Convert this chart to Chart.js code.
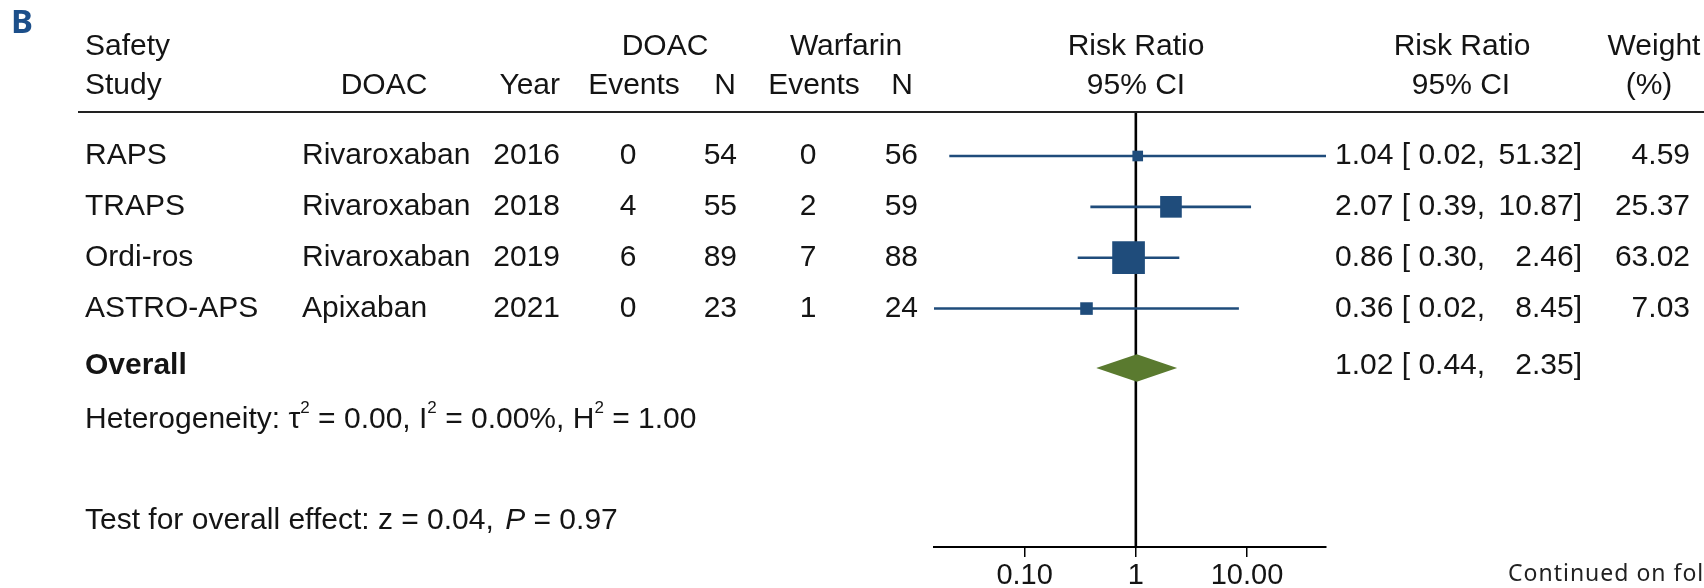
<!DOCTYPE html>
<html>
<head>
<meta charset="utf-8">
<script src="https://cdn.jsdelivr.net/npm/chart.js@4.4.1/dist/chart.umd.min.js"></script>
<style>
  html, body { margin: 0; padding: 0; background: #fff; }
  #wrap { width: 1704px; height: 588px; position: relative; }
</style>
</head>
<body>
<div id="wrap"><canvas id="forestChart" width="1704" height="588"></canvas></div>
<script>
// forest plot B - safety, DOAC vs warfarin

// data
const studies    = ['RAPS', 'TRAPS', 'Ordi-ros', 'ASTRO-APS'];
const drugs      = ['Rivaroxaban', 'Rivaroxaban', 'Rivaroxaban', 'Apixaban'];
const years      = [2016, 2018, 2019, 2021];
const doacEvents = [0, 4, 6, 0];
const doacN      = [54, 55, 89, 23];
const warfEvents = [0, 2, 7, 1];
const warfN      = [56, 59, 88, 24];
const riskRatio  = [1.04, 2.07, 0.86, 0.36];
const ciLow      = [0.021, 0.39, 0.30, 0.0153];
const ciHigh     = [51.32, 10.87, 2.46, 8.45];
const weights    = [4.59, 25.37, 63.02, 7.03];
const overallRR   = 1.02;
const overallLow  = 0.44;
const overallHigh = 2.35;
const tickValues = [0.1, 1, 10];
const tickLabels = ['0.10', '1', '10.00'];

// layout (row units on the hidden y scale)
const Y_MIN = -1.892, Y_MAX = 8.688;
const V_HEAD1 = -1.157, V_HEAD2 = -0.374, V_RULE = 0.139;
const V_OVERALL = 5.13, V_DIAMOND = 5.168, V_HET = 6.193, V_TEST = 8.166;
const DIAMOND_H = 0.27;

const FONT_FAMILY = '"Liberation Sans", Arial, Helvetica, sans-serif';
const FONT_SIZE = 30;
const FONT = FONT_SIZE + 'px ' + FONT_FAMILY;
const TEXT = '#141414';
const BLUE = '#1f4c7b';
const GREEN = '#5a7a2f';

const rowV = studies.map((s, i) => i + 1);

// datasets
const squares = {
    label: 'RR',
    data: riskRatio.map((r, i) => ({ x: r, y: rowV[i] })),
    showLine: false,
    pointStyle: 'rect',
    pointRadius: weights.map(w => (3.8 * Math.sqrt(w) + 2.5) / Math.SQRT2),
    pointBackgroundColor: BLUE,
    pointBorderWidth: 0
};

const ciLines = studies.map((s, i) => ({
    label: s + ' CI',
    data: [{ x: ciLow[i], y: rowV[i] }, { x: ciHigh[i], y: rowV[i] }],
    borderColor: BLUE,
    borderWidth: 2.6,
    pointRadius: 0,
    showLine: true
}));

const diamondTop = {
    label: 'overall top',
    data: [
        { x: overallLow, y: V_DIAMOND },
        { x: overallRR, y: V_DIAMOND - DIAMOND_H },
        { x: overallHigh, y: V_DIAMOND }
    ],
    borderWidth: 0,
    borderColor: GREEN,
    backgroundColor: GREEN,
    pointRadius: 0,
    showLine: true,
    tension: 0,
    fill: '+1'
};
const diamondBottom = {
    label: 'overall bottom',
    data: [
        { x: overallLow, y: V_DIAMOND },
        { x: overallRR, y: V_DIAMOND + DIAMOND_H },
        { x: overallHigh, y: V_DIAMOND }
    ],
    borderWidth: 0,
    borderColor: GREEN,
    pointRadius: 0,
    showLine: true,
    tension: 0,
    fill: false
};

const nullLine = {
    label: 'no effect',
    data: [{ x: 1, y: V_RULE }, { x: 1, y: Y_MAX }],
    borderColor: '#000',
    borderWidth: 2.6,
    pointRadius: 0,
    showLine: true
};

// text columns, header, footer
function drawRich(ctx, parts, x, yPix) {
    parts.forEach(p => {
        ctx.font = p.font || FONT;
        ctx.fillText(p.t, x, yPix + (p.dy || 0));
        x += ctx.measureText(p.t).width + (p.gap || 0);
    });
}

const tablePlugin = {
    id: 'tablePlugin',
    afterDraw(chart) {
        const ctx = chart.ctx;
        const yS = chart.scales.y;
        const py = v => yS.getPixelForValue(v);
        ctx.save();
        ctx.fillStyle = TEXT;
        ctx.textBaseline = 'middle';
        ctx.font = FONT;
        const txt = (s, x, v, align) => {
            ctx.textAlign = align || 'left';
            ctx.fillText(String(s), x, py(v));
        };

        // panel letter
        ctx.save();
        ctx.font = 'bold 33px "Noto Sans", sans-serif';
        ctx.fillStyle = '#1c4f8a';
        ctx.textAlign = 'left';
        ctx.fillText('B', 11, 24);
        ctx.restore();

        // header
        txt('Safety', 85, V_HEAD1);
        txt('DOAC', 665, V_HEAD1, 'center');
        txt('Warfarin', 846, V_HEAD1, 'center');
        txt('Risk Ratio', 1136, V_HEAD1, 'center');
        txt('Risk Ratio', 1462, V_HEAD1, 'center');
        txt('Weight', 1654, V_HEAD1, 'center');

        txt('Study', 85, V_HEAD2);
        txt('DOAC', 384, V_HEAD2, 'center');
        txt('Year', 560, V_HEAD2, 'right');
        txt('Events', 634, V_HEAD2, 'center');
        txt('N', 736, V_HEAD2, 'right');
        txt('Events', 814, V_HEAD2, 'center');
        txt('N', 913, V_HEAD2, 'right');
        txt('95% CI', 1136, V_HEAD2, 'center');
        txt('95% CI', 1461, V_HEAD2, 'center');
        txt('(%)', 1649, V_HEAD2, 'center');

        // rule under header
        ctx.strokeStyle = '#222';
        ctx.lineWidth = 2;
        ctx.beginPath();
        ctx.moveTo(78, Math.round(py(V_RULE)));
        ctx.lineTo(1704, Math.round(py(V_RULE)));
        ctx.stroke();

        // study rows
        studies.forEach((s, i) => {
            const v = rowV[i];
            txt(s, 85, v);
            txt(drugs[i], 302, v);
            txt(years[i], 560, v, 'right');
            txt(doacEvents[i], 628, v, 'center');
            txt(doacN[i], 737, v, 'right');
            txt(warfEvents[i], 808, v, 'center');
            txt(warfN[i], 918, v, 'right');
            txt(riskRatio[i].toFixed(2) + ' [ ' + ciLow[i].toFixed(2) + ',', 1335, v);
            txt(ciHigh[i].toFixed(2) + ']', 1582, v, 'right');
            txt(weights[i].toFixed(2), 1690, v, 'right');
        });

        // overall row
        ctx.font = 'bold ' + FONT;
        txt('Overall', 85, V_OVERALL);
        ctx.font = FONT;
        txt(overallRR.toFixed(2) + ' [ ' + overallLow.toFixed(2) + ',', 1335, V_OVERALL);
        txt(overallHigh.toFixed(2) + ']', 1582, V_OVERALL, 'right');

        // heterogeneity / test lines
        ctx.textAlign = 'left';
        const sup = '17px ' + FONT_FAMILY;
        drawRich(ctx, [
            { t: 'Heterogeneity: \u03c4' },
            { t: '2', font: sup, dy: -12 },
            { t: ' = 0.00, I' },
            { t: '2', font: sup, dy: -12 },
            { t: ' = 0.00%, H' },
            { t: '2', font: sup, dy: -12 },
            { t: ' = 1.00' }
        ], 85, py(V_HET));
        drawRich(ctx, [
            { t: 'Test for overall effect: z = 0.04, ', gap: 3 },
            { t: 'P', font: 'italic ' + FONT },
            { t: ' = 0.97' }
        ], 85, py(V_TEST));

        // page note (cut off at the edge in the original)
        ctx.font = '23px "Noto Sans", sans-serif';
        ctx.letterSpacing = '1px';
        ctx.fillStyle = '#222';
        ctx.fillText('Continued on fol', 1508, 574);
        ctx.restore();
    }
};

new Chart(document.getElementById('forestChart'), {
    type: 'line',
    data: {
        datasets: [squares, diamondTop, diamondBottom, ...ciLines, nullLine]
    },
    options: {
        responsive: false,
        animation: false,
        devicePixelRatio: 1,
        layout: { padding: { left: 934, right: 378, top: 0, bottom: 0 } },
        plugins: { legend: { display: false }, tooltip: { enabled: false } },
        scales: {
            x: {
                type: 'logarithmic',
                min: 0.0153,
                max: 51.32,
                position: 'bottom',
                afterBuildTicks: s => { s.ticks = tickValues.map(v => ({ value: v })); },
                afterFit: s => { s.height = 41; },
                ticks: {
                    callback: (val, idx) => tickLabels[idx],
                    font: { family: FONT_FAMILY, size: 29 },
                    color: TEXT,
                    padding: 2,
                    maxRotation: 0,
                    autoSkip: false
                },
                grid: { drawOnChartArea: false, drawTicks: true, tickLength: 10, color: '#000', lineWidth: 1.5 },
                border: { display: true, color: '#000', width: 2 }
            },
            y: {
                type: 'linear',
                min: Y_MIN,
                max: Y_MAX,
                reverse: true,
                display: false
            }
        }
    },
    plugins: [tablePlugin]
});
</script>
</body>
</html>
